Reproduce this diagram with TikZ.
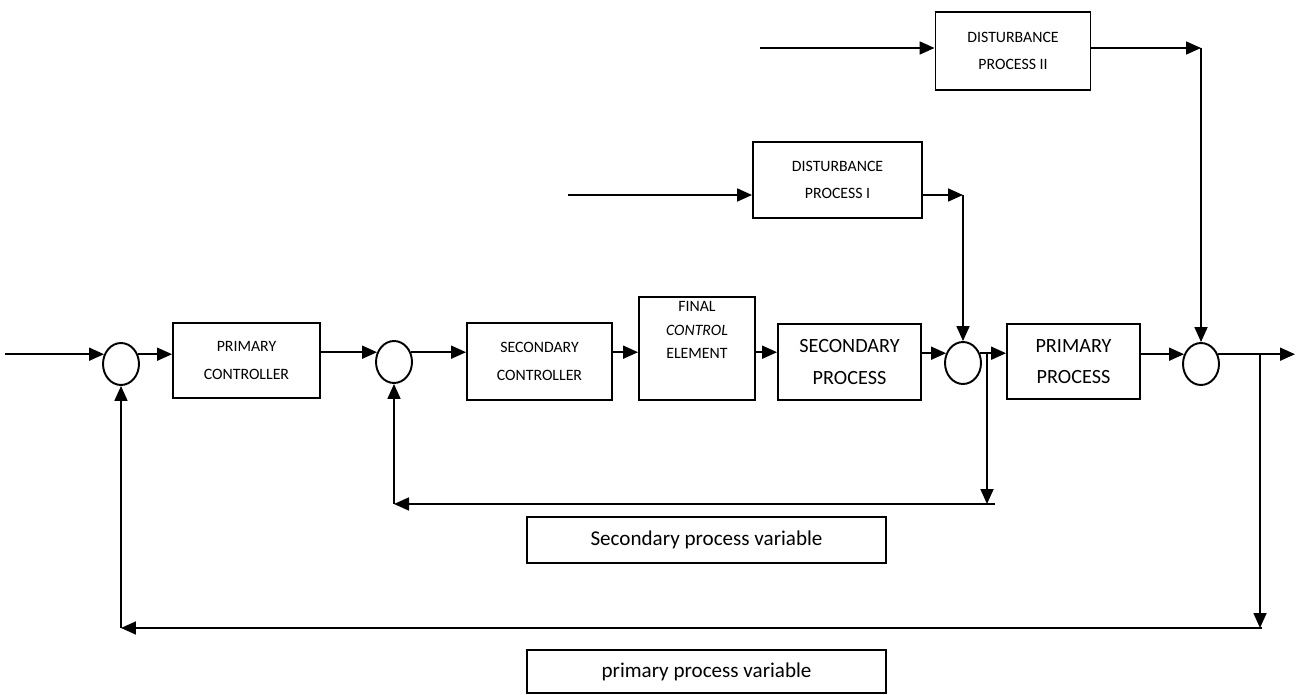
\documentclass[tikz,border=0pt]{standalone}
\usepackage{fontspec}
\setmainfont{Carlito}
\usetikzlibrary{arrows.meta,shapes.geometric}
\tikzset{
  blk/.style={draw,line width=1.1pt,inner sep=0pt,align=center,font=\fontsize{9}{15.5}\selectfont},
  blkg/.style={blk,font=\fontsize{11.5}{18}\selectfont},
  sum/.style={draw,ellipse,line width=1.1pt,minimum width=0.72cm,minimum height=0.84cm,inner sep=0pt},
  sig/.style={-{Triangle[length=3mm,width=2.6mm]},line width=1pt},
  var/.style={draw,line width=0.9pt,inner sep=0pt,font=\fontsize{12}{14}\selectfont},
}

\begin{document}
\begin{tikzpicture}[x=0.02cm,y=-0.02cm]
  \useasboundingbox (0,0) rectangle (1301,695);
  \node[sum] (s1) at (121,364) {};
  \node[sum] (s2) at (394,362) {};
  \node[sum] (s3) at (963,363) {};
  \node[sum] (s4) at (1201,364) {};
  \node[blk,minimum width=2.94cm,minimum height=1.5cm] (pc) at (246.5,360.5) {PRIMARY\\CONTROLLER};
  \node[blk,minimum width=2.9cm,minimum height=1.54cm] (sc) at (539.5,361.5) {SECONDARY\\CONTROLLER};
  \node[blk,minimum width=2.32cm,minimum height=2.06cm] (fce) at (697,348.5) {};
  \node[font=\fontsize{9}{13.6}\selectfont,align=center] (fcet) at (697,330) {FINAL\\\textit{CONTROL}\\ELEMENT};
  \node[blkg,minimum width=2.86cm,minimum height=1.52cm] (sp) at (849.5,362) {SECONDARY\\PROCESS};
  \node[blkg,minimum width=2.66cm,minimum height=1.5cm] (pp) at (1073.5,361.5) {PRIMARY\\PROCESS};
  \node[blk,minimum width=3.38cm,minimum height=1.52cm] (d1) at (837.5,180) {DISTURBANCE\\PROCESS I};
  \node[blk,minimum width=3.1cm,minimum height=1.56cm] (d2) at (1013,51) {DISTURBANCE\\PROCESS II};
  \node[var,minimum width=7.18cm,minimum height=0.92cm] (sv) at (706.5,540) {Secondary process variable};
  \node[var,minimum width=7.18cm,minimum height=0.86cm] (pv) at (706.5,671.5) {primary process variable};

  \coordinate (in) at (5,354);
  \coordinate (out) at (1295,355);
  \coordinate (d1in) at (568,195);
  \coordinate (d2in) at (760,48);
  \coordinate (b3) at (987,354);
  \coordinate (b4) at (1260,355);
  \coordinate (e3) at (995,504);
  \coordinate (e4) at (1262,628);

  \draw[sig] (in |- s1.150) -- (s1.150);
  \draw[sig] (s1.30) -- (s1.30 -| pc.west);
  \draw[sig] (pc.east |- s2.150) -- (s2.150);
  \draw[sig] (s2.30) -- (s2.30 -| sc.west);
  \draw[sig] (sc.east |- s2.30) -- (fce.west |- s2.30);
  \draw[sig] (fce.east |- s2.30) -- (sp.west |- s2.30);
  \draw[sig] (sp.east |- s3.150) -- (s3.150);
  \draw[sig] (s3.30) -- (s3.30 -| pp.west);
  \draw[sig] (pp.east |- s4.150) -- (s4.150);
  \draw[sig] (s4.30) -- (s4.30 -| out);

  \draw[sig] (d1in) -- (d1.west |- d1in);
  \draw[sig] (d1.east |- d1in) -- (s3 |- d1in);
  \draw[sig] (s3 |- d1in) -- (s3.north);
  \draw[sig] (d2in) -- (d2.west |- d2in);
  \draw[sig] (d2.east |- d2in) -- (s4 |- d2in);
  \draw[sig] (s4 |- d2in) -- (s4.north);

  \draw[sig] (b3) -- (b3 |- e3);
  \draw[sig] (e3) -- (s2 |- e3);
  \draw[sig] (s2 |- e3) -- (s2.south);
  \draw[sig] (b4) -- (b4 |- e4);
  \draw[sig] (e4) -- (s1 |- e4);
  \draw[sig] (s1 |- e4) -- (s1.south);
\end{tikzpicture}
\end{document}
